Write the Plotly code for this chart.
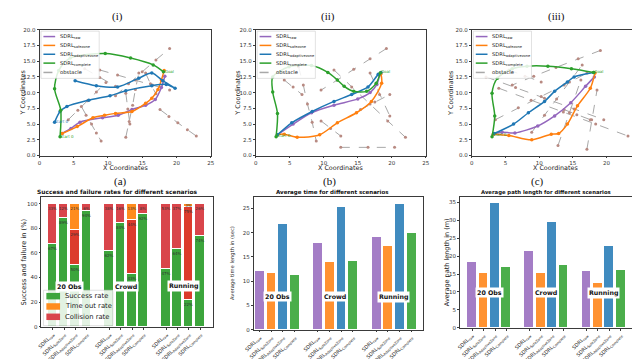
import plotly.graph_objects as go

W, H = 640, 359
FONT = "DejaVu Sans"

# ---------------- data ----------------
legend_names = ["SDRL<sub>raw</sub>", "SDRL<sub>safezone</sub>", "SDRL<sub>adaptivezone</sub>", "SDRL<sub>complete</sub>"]
tick_names = ["SDRL<sub>raw</sub>", "SDRL<sub>SafeZone</sub>", "SDRL<sub>AdaptiveZone</sub>", "SDRL<sub>Complete</sub>"]
scenarios = ["20 Obs", "Crowd", "Running"]
method_colors = ["#9467bd", "#ff7f0e", "#1f77b4", "#2ca02c"]
rate_names = ["Success rate", "Time out rate", "Collision rate"]
rate_colors = ["#3ca53c", "#ff8c1e", "#d9454b"]

# trajectories, scene (i)
traj_i = {
    "raw": ([3.3, 4.6, 5.9, 9.2, 11.5, 13.5, 15.5, 16.9, 17.8, 18.3],
            [3.5, 4.3, 5.3, 6.0, 6.4, 7.3, 8.0, 8.9, 10.8, 12.6]),
    "safezone": ([3.3, 5.5, 7.8, 9.5, 11.1, 13.5, 15.5, 16.4, 17.3, 17.8, 18.2],
                 [3.5, 4.6, 6.0, 6.4, 6.7, 7.0, 8.3, 9.1, 10.5, 12.0, 13.5]),
    "adaptive": ([2.2, 3.0, 4.0, 7.2, 10.3, 12.6, 16.4, 18.5, 19.8, 18.0, 16.4, 14.5, 11.4, 8.3, 5.2],
                 [5.3, 7.0, 7.8, 8.8, 9.5, 10.3, 11.1, 11.3, 10.7, 11.9, 13.1, 12.3, 10.9, 11.1, 11.9]),
    "complete": ([3.0, 3.1, 2.2, 2.8, 4.5, 9.6, 13.3, 16.6, 18.1],
                 [3.0, 7.2, 10.6, 13.5, 15.5, 16.2, 15.5, 14.4, 13.3]),
}
# trajectories, scene (ii)
traj_ii = {
    "raw": ([3.2, 5.5, 8.2, 11.5, 15.0, 16.8, 17.8, 18.2],
            [3.3, 5.0, 6.8, 8.0, 9.0, 10.0, 11.3, 12.8]),
    "safezone": ([3.2, 4.2, 6.1, 9.4, 12.0, 14.8, 17.0, 18.5, 18.4],
                 [3.3, 3.4, 2.9, 3.3, 5.2, 6.8, 8.6, 11.5, 13.0]),
    "adaptive": ([3.2, 5.3, 8.3, 11.5, 14.1, 16.5, 18.0, 18.4],
                 [3.3, 5.2, 7.0, 8.6, 9.7, 10.9, 12.9, 13.2]),
    "complete": ([3.0, 3.2, 2.5, 2.5, 4.9, 8.2, 10.6, 12.0, 13.0, 14.4, 16.3, 17.7, 18.3],
                 [3.0, 6.7, 10.1, 12.5, 14.1, 14.3, 13.2, 12.0, 11.0, 10.2, 10.2, 11.5, 13.1]),
}
# trajectories, scene (iii)
traj_iii = {
    "raw": ([3.2, 4.5, 6.4, 9.8, 12.3, 14.7, 16.9, 18.2],
            [3.4, 3.7, 3.6, 4.7, 6.3, 8.4, 11.0, 12.5]),
    "safezone": ([3.2, 5.5, 8.9, 11.8, 12.9, 14.2, 15.7, 17.6, 18.3],
                 [3.4, 3.2, 2.5, 3.4, 3.5, 5.0, 7.9, 10.7, 13.1]),
    "adaptive": ([3.3, 6.2, 8.4, 10.8, 12.3, 14.2, 15.2, 18.1],
                 [3.5, 5.0, 6.8, 8.6, 10.2, 11.7, 12.5, 13.2]),
    "complete": ([3.0, 3.4, 3.0, 3.8, 6.0, 8.2, 11.3, 14.8, 18.1],
                 [3.0, 6.3, 9.9, 12.3, 13.8, 14.2, 14.2, 13.8, 13.2]),
}
# start / goal labels per scene: (text, x, y, colour index)
marks_i = [("Start 0", 2.2, 5.3, 2), ("Start 0", 3.0, 3.0, 3), ("Goal", 18.3, 13.3, 3)]
marks_ii = [("Start 0", 3.1, 3.1, 3), ("Goal", 18.4, 13.3, 3)]
marks_iii = [("Start 0", 3.1, 3.2, 3), ("Goal", 18.2, 13.3, 3)]

# obstacle paths (None separates obstacles)
obs_i_x = [11.1, 13.0, 15.0, 17.0, 19.0, None, 6.1, 6.8, 7.6, 8.3, 9.0, None, 12.6, 13.1, 13.6, 14.0, 14.5, None,
           4.2, 5.6, 7.0, 8.3, 9.7, None, 8.8, 11.4, 14.0, 16.5, 19.0, None, 17.6, 18.9, 20.2, 21.6, 22.9, None,
           6.6, 8.8, 11.1, None, 12.6, 12.9, 13.2, None, 15.5, 16.2, 17.0]
obs_i_y = [9.5, 11.4, 13.3, 15.2, 17.0, None, 7.8, 6.4, 5.0, 3.6, 2.3, None, 2.9, 5.4, 8.0, 10.5, 13.1, None,
           5.7, 7.2, 8.7, 10.1, 11.6, None, 13.6, 12.8, 12.0, 11.2, 10.4, None, 7.3, 6.2, 5.2, 4.1, 3.1, None,
           13.8, 12.4, 11.0, None, 9.9, 7.4, 5.0, None, 13.1, 11.4, 9.8]
obs_ii_x = [19.2, 16.8, 14.4, 12.0, 9.6, None, 6.3, 7.0, 7.6, 8.3, 8.9, None, 4.2, 5.5, 6.8, None,
            11.5, 14.1, 16.8, 19.4, 22.0, None, 12.5, 16.5, 20.4, None, 9.6, 11.0, 12.5, None,
            15.4, 17.5, 19.7, None, 16.8, 18.2, 19.7]
obs_ii_y = [17.0, 15.4, 13.7, 12.0, 10.4, None, 14.1, 11.2, 8.2, 5.3, 2.3, None, 12.0, 10.9, 9.7, None,
            13.6, 10.9, 8.2, 5.5, 2.9, None, 1.3, 1.3, 1.3, None, 5.5, 4.3, 3.1, None,
            7.3, 8.5, 9.7, None, 13.1, 9.7, 6.3]
obs_iii_x = [19.1, 15.8, 12.5, 9.2, 6.0, None, 2.1, 6.5, 10.8, 15.2, 19.6, None, 4.0, 8.8, 13.6, 18.4, 23.2, None,
             3.5, 6.9, 10.3, 13.7, 17.1, None, 8.9, 10.8, 12.6, 14.5, 16.4, None, 12.8, 14.5, 16.2, None,
             17.1, 17.8, 18.6, None, 5.5, 7.9, 10.3, None, 13.7, 15.6, 17.6]
obs_iii_y = [16.7, 15.4, 14.0, 12.6, 11.2, None, 12.5, 10.8, 9.1, 7.4, 5.7, None, 10.7, 8.8, 6.9, 5.0, 3.1, None,
             5.7, 7.6, 9.4, 11.2, 13.1, None, 3.7, 6.4, 9.0, 11.7, 14.4, None, 1.6, 6.8, 12.0, None,
             1.0, 5.7, 10.4, None, 13.6, 12.6, 11.7, None, 7.3, 6.5, 5.7]

# (a) success / failure rates (%), order: 3 scenarios x 4 methods
success = [67, 88.5, 50, 94, 62, 84, 43, 92, 47, 63.5, 22, 74]
collision = [33, 11.5, 29, 6, 38, 16, 44, 8, 53, 36.5, 75, 26]
timeout = [0, 0, 21, 0, 0, 0, 13, 0, 0, 0, 3, 0]
success_lbl = ["67%", "89%", "50%", "94%", "62%", "84%", "43%", "92%", "47%", "64%", "22%", "74%"]
collision_lbl = ["33%", "12%", "29%", "6%", "38%", "16%", "44%", "8%", "53%", "37%", "75%", "26%"]
timeout_lbl = [" ", " ", "21%", " ", " ", " ", "13%", " ", " ", " ", "3%", " "]

# (b) average time (sec) per method, per scenario
avg_time = {
    "raw": [12.1, 18.0, 19.2],
    "safezone": [11.8, 13.9, 17.2],
    "adaptive": [21.9, 25.3, 26.0],
    "complete": [11.3, 14.2, 20.0],
}
# (c) average path length (m)
avg_path = {
    "raw": [18.5, 21.4, 15.8],
    "safezone": [15.4, 15.2, 12.5],
    "adaptive": [34.9, 29.6, 23.0],
    "complete": [17.0, 17.5, 16.3],
}

keys = ["raw", "safezone", "adaptive", "complete"]

fig = go.Figure()

# ---------------- top trajectory plots ----------------
tops = [(traj_i, obs_i_x, obs_i_y, marks_i), (traj_ii, obs_ii_x, obs_ii_y, marks_ii),
        (traj_iii, obs_iii_x, obs_iii_y, marks_iii)]
for p, (traj, ox, oy, marks) in enumerate(tops):
    xa, ya = f"x{p+1}", f"y{p+1}"
    fig.add_trace(go.Scatter(x=ox, y=oy, xaxis=xa, yaxis=ya, mode="lines+markers",
                             line=dict(color="#a8a8a8", width=1, dash="dash"),
                             marker=dict(color="#b88a82", size=3),
                             showlegend=False, connectgaps=False))
    for k, key in enumerate(keys):
        tx, ty = traj[key]
        fig.add_trace(go.Scatter(x=tx, y=ty, xaxis=xa, yaxis=ya, mode="lines+markers",
                                 line=dict(color=method_colors[k], width=1.5, shape="spline", smoothing=0.8),
                                 marker=dict(color=method_colors[k], size=3.5),
                                 showlegend=False))
    for (t, mx, my, ci) in marks:
        fig.add_trace(go.Scatter(x=[mx], y=[my], xaxis=xa, yaxis=ya, mode="text", text=[t],
                                 textposition="middle right",
                                 textfont=dict(family=FONT, size=4, color=method_colors[ci]),
                                 showlegend=False))

# ---------------- bar chart (a) ----------------
pos = [g * 5 + i for g in range(3) for i in range(4)]
coll_colors = ["#dc3b2c" if i == 2 else rate_colors[2] for g in range(3) for i in range(4)]
bar_common = dict(xaxis="x4", yaxis="y4", width=0.85, textposition="inside", insidetextanchor="end",
                  textangle=0, textfont=dict(size=4, color="#333", family=FONT), constraintext="none",
                  showlegend=False)
fig.add_trace(go.Bar(x=pos, y=success, text=success_lbl, name=rate_names[0],
                     marker=dict(color=rate_colors[0], line=dict(color="white", width=1)), **bar_common))
fig.add_trace(go.Bar(x=pos, y=collision, text=collision_lbl, name=rate_names[2],
                     marker=dict(color=coll_colors, line=dict(color="white", width=1)), **bar_common))
fig.add_trace(go.Bar(x=pos, y=timeout, text=timeout_lbl, name=rate_names[1],
                     marker=dict(color=rate_colors[1], line=dict(color="white", width=1)), **bar_common))

# ---------------- bar charts (b), (c) ----------------
for ax, data in (("5", avg_time), ("6", avg_path)):
    for k, key in enumerate(keys):
        fig.add_trace(go.Bar(x=[g * 5 + k for g in range(3)], y=data[key], xaxis="x" + ax, yaxis="y" + ax,
                             width=0.85, marker=dict(color=method_colors[k], opacity=0.85,
                                                     line=dict(color="white", width=1)),
                             showlegend=False))

# ---------------- layout ----------------
def dx(a, b):
    return [a / W, b / W]

def dy(top, bottom):
    return [1 - bottom / H, 1 - top / H]

axis_style = dict(showline=True, mirror=True, linecolor="#3a3a3a", linewidth=0.8, ticks="outside",
                  ticklen=2, tickwidth=0.6, tickcolor="#3a3a3a", showgrid=False, zeroline=False,
                  tickfont=dict(family=FONT, size=5.5, color="#333"))

layout = dict(width=W, height=H, margin=dict(l=0, r=0, t=0, b=0), paper_bgcolor="white",
              plot_bgcolor="white", barmode="stack", font=dict(family=FONT), bargap=0, showlegend=False)

top_x = [(22, 197), (243, 417), (464, 636)]
for p in range(3):
    n = "" if p == 0 else str(p + 1)
    layout["xaxis" + n] = dict(domain=dx(*top_x[p]), range=[0, 25], tickvals=[0, 5, 10, 15, 20, 25],
                               anchor="y" + n if n else "y", **axis_style)
    layout["yaxis" + n] = dict(domain=dy(19, 147), range=[0, 20], tickvals=[0, 2.5, 5, 7.5, 10, 12.5, 15, 17.5, 20],
                               tickformat=".1f", anchor="x" + n if n else "x", **axis_style)

bot = [((24, 199), (189, 321), [-1.0, 14.1], [0, 105.5], [0, 20, 40, 60, 80, 100]),
       ((241, 414), (189, 324), [-0.5, 14.0], [0, 27.4], [0, 5, 10, 15, 20, 25]),
       ((452, 628), (189, 322), [-1.05, 14.0], [0, 36.6], [0, 5, 10, 15, 20, 25, 30, 35])]
for j, (xd, yd, xr, yr, yt) in enumerate(bot):
    n = str(j + 4)
    st = dict(axis_style)
    layout["xaxis" + n] = dict(domain=dx(*xd), range=xr, tickvals=pos, ticktext=tick_names * 3,
                               tickangle=-45, anchor="y" + n,
                               **{k: v for k, v in st.items() if k != "tickfont"},
                               tickfont=dict(family=FONT, size=5.0, color="#222"))
    layout["yaxis" + n] = dict(domain=dy(*yd), range=yr, tickvals=yt, anchor="x" + n, **st)

fig.update_layout(**layout)

# ---------------- text annotations & legends ----------------
ann = []
shapes = []

def add(text, x, y, size, family=FONT, color="#222", angle=0, bold=False, bg=None, xanchor="center"):
    ann.append(dict(text=("<b>%s</b>" % text) if bold else text, x=x / W, y=1 - y / H, xref="paper",
                    yref="paper", showarrow=False, textangle=angle, xanchor=xanchor, yanchor="middle",
                    font=dict(family=family, size=size, color=color),
                    bgcolor=bg, borderpad=0))

SERIF = "Liberation Serif"
for t, x in (("(i)", 102), ("(ii)", 317), ("(iii)", 551)):
    add(t, x, 6, 11, SERIF, "#111")
for t, x in (("(a)", 105), ("(b)", 318), ("(c)", 531)):
    add(t, x, 173, 11, SERIF, "#111")
for p in range(3):
    cx = (top_x[p][0] + top_x[p][1]) / 2
    add("X Coordinates", cx, 159.5, 6.4)
ypos = [5, 225, 442]
for p in range(3):
    add("Y Coordinates", ypos[p], 83, 6.4, angle=-90)

add("Success and failure rates for different scenarios", 102, 184.5, 5.9, bold=True, color="#111")
add("Average time for different scenarios", 322, 184.5, 5.5, bold=True, color="#111")
add("Average path length for different scenarios", 540, 184.5, 5.3, bold=True, color="#111")
add("Success and failure in (%)", 6, 255, 6.7, angle=-90)
add("Average time length in (sec)", 220, 256, 5.2, angle=-90)
add("Average path length in (m)", 438, 255, 6.5, angle=-90)

def rect(x0, y0, x1, y1, fill, line="#cccccc", lw=0.6):
    shapes.append(dict(type="rect", xref="paper", yref="paper", x0=x0 / W, x1=x1 / W,
                       y0=1 - y1 / H, y1=1 - y0 / H, fillcolor=fill, line=dict(color=line, width=lw)))

def seg(x0, x1, y, color, width=1.5, dash="solid"):
    shapes.append(dict(type="line", xref="paper", yref="paper", x0=x0 / W, x1=x1 / W,
                       y0=1 - y / H, y1=1 - y / H, line=dict(color=color, width=width, dash=dash)))

# top legends
top_entries = legend_names + ["obstacle"]
top_entry_colors = method_colors + ["#a8a8a8"]
entry_y = [26, 35, 44, 53, 62.5]
for p in range(3):
    x0 = top_x[p][0]
    rect(x0 + 1.5, 20.5, x0 + 61, 68.5, "rgba(255,255,255,0.85)")
    for e, (t, c) in enumerate(zip(top_entries, top_entry_colors)):
        seg(x0 + 4, x0 + 16, entry_y[e], c, 1.5, "dash" if e == 4 else "solid")
        add(t, x0 + 20, entry_y[e], 5.2, color="#222", xanchor="left")

# bar chart (a) legend
rect(26, 284, 97, 320, "rgba(255,255,255,0.85)")
leg_a_y = [290, 300.5, 311]
for e in range(3):
    rect(29, leg_a_y[e] - 3.3, 43, leg_a_y[e] + 3.3, rate_colors[e], line=rate_colors[e], lw=0)
    add(rate_names[e], 47, leg_a_y[e], 6.8, color="#222", xanchor="left")

fig.update_layout(annotations=ann, shapes=shapes)

# group labels in data coordinates
glab_y = {"x4": 33, "x5": 6.8, "x6": 9.7}
for xa, yv in glab_y.items():
    ya = "y" + xa[1:]
    for g, s in enumerate(scenarios):
        fig.add_annotation(text="<b>%s</b>" % s, x=g * 5 + 1.5, y=yv, xref=xa, yref=ya, showarrow=False,
                           font=dict(family=FONT, size=6.3, color="#111"), bgcolor="white", borderpad=1)

fig.write_html("out.html")
